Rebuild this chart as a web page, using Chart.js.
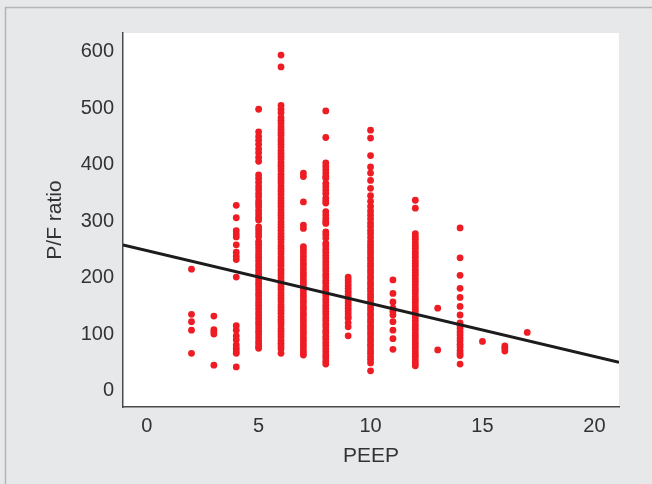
<!DOCTYPE html>
<html>
<head>
<meta charset="utf-8">
<title>P/F ratio vs PEEP</title>
<script src="https://cdn.jsdelivr.net/npm/chart.js@4.4.1/dist/chart.umd.min.js"></script>
<style>
  html, body { margin: 0; padding: 0; background: #e7e8ea; }
  #chart { display: block; }
</style>
</head>
<body>
<canvas id="chart" width="652" height="484"></canvas>
<script>
// P/F ratio readings at each PEEP level
const pf2 = [215, 135, 122, 107, 66];
const pf3 = [132, 108, 104, 100, 45];
const pf4 = [328, 306, 283, 277, 272, 258, 245, 238, 232, 201, 115, 107, 97, 90, 81, 75, 70, 66, 42];
const pf5 = [498, 458, 450, 443, 436, 428, 421, 413, 406, 382, 376, 369, 362, 356, 349, 343, 336, 331, 326,
  319, 313, 307, 302, 290, 285, 279, 273, 264, 259, 253, 247, 241, 236, 230, 224, 219, 213, 207, 202, 196,
  190, 185, 179, 173, 168, 162, 156, 151, 145, 139, 134, 128, 122, 117, 111, 105, 100, 94, 88, 83, 78, 75];
const pf6 = [594, 573, 505, 498, 492, 483, 478, 473, 467, 462, 457, 452, 446, 441, 436, 431, 425, 420, 415,
  410, 404, 399, 394, 389, 383, 378, 373, 368, 362, 357, 352, 347, 341, 336, 331, 326, 320, 315, 310, 305,
  299, 294, 289, 284, 278, 273, 268, 263, 257, 252, 247, 242, 236, 231, 226, 221, 215, 210, 205, 200, 194,
  189, 184, 179, 173, 168, 163, 158, 152, 147, 142, 137, 131, 126, 121, 116, 110, 105, 100, 95, 89, 84, 79, 74, 66];
const pf7 = [385, 379, 334, 293, 287, 255, 250, 244, 238, 232, 226, 221, 215, 209, 204, 198, 193, 188, 182,
  177, 171, 166, 160, 155, 149, 144, 138, 133, 127, 122, 116, 111, 105, 100, 94, 89, 83, 78, 72, 67, 63];
const pf8 = [495, 448, 403, 397, 391, 385, 379, 376, 367, 361, 355, 349, 341, 336, 332, 317, 311, 305, 300,
  296, 281, 276, 270, 261, 256, 250, 245, 239, 234, 228, 223, 217, 212, 206, 201, 195, 190, 184, 179, 173,
  168, 162, 157, 151, 146, 140, 135, 129, 124, 118, 113, 107, 102, 96, 91, 85, 80, 74, 69, 63, 58, 52, 47];
const pf9 = [201, 196, 191, 186, 181, 176, 171, 166, 161, 156, 151, 146, 141, 136, 131, 128, 120, 113, 97];
const pf10 = [461, 447, 416, 396, 385, 372, 358, 345, 335, 326, 318, 311, 304, 297, 291, 284, 278, 271, 264,
  258, 253, 247, 242, 236, 231, 225, 220, 214, 209, 203, 198, 192, 187, 181, 176, 170, 165, 159, 154, 148,
  143, 137, 132, 126, 121, 115, 110, 104, 99, 93, 88, 82, 77, 71, 66, 60, 55, 49, 35];
const pf11 = [196, 172, 157, 146, 140, 134, 122, 107, 92, 73];
const pf12 = [337, 323, 278, 273, 268, 262, 257, 252, 246, 241, 236, 230, 225, 220, 214, 209, 204, 198, 193,
  188, 182, 177, 172, 166, 161, 156, 150, 145, 140, 134, 129, 124, 118, 113, 108, 102, 97, 92, 86, 81, 76,
  70, 65, 60, 54, 49, 44];
const pf13 = [146, 72];
const pf14 = [288, 235, 204, 181, 165, 149, 134, 120, 115, 110, 104, 99, 93, 88, 82, 77, 71, 66, 62, 47];
const pf15 = [87];
const pf16 = [79, 75, 70];
const pf17 = [103];

const peepLevels = [2, 3, 4, 5, 6, 7, 8, 9, 10, 11, 12, 13, 14, 15, 16, 17];
const pfGroups = [pf2, pf3, pf4, pf5, pf6, pf7, pf8, pf9, pf10, pf11, pf12, pf13, pf14, pf15, pf16, pf17];

// regression line, read at the two edges of the plot
const fitX = [-1.06, 21.1];
const fitY = [258, 50];

const xTicks = [0, 5, 10, 15, 20];
const yTicks = [0, 100, 200, 300, 400, 500, 600];

const points = [];
peepLevels.forEach((p, i) => {
    pfGroups[i].forEach(v => points.push({ x: p, y: v }));
});

const textColor = '#333333';
const fontFamily = '"Liberation Sans", Arial, Helvetica, sans-serif';

const frame = {
    id: 'frame',
    beforeDraw(chart) {
        const { ctx, chartArea: a, width, height } = chart;
        ctx.save();
        ctx.fillStyle = '#e7e8ea';
        ctx.fillRect(0, 0, width, height);
        ctx.strokeStyle = '#b4b5b7';
        ctx.lineWidth = 1.5;
        ctx.beginPath();
        ctx.moveTo(width, 7.5);
        ctx.lineTo(5.5, 7.5);
        ctx.lineTo(5.5, height);
        ctx.stroke();
        ctx.fillStyle = '#ffffff';
        ctx.fillRect(a.left, a.top, a.right - a.left, a.bottom - a.top);
        ctx.restore();
    }
};

new Chart(document.getElementById('chart'), {
    type: 'scatter',
    data: {
        datasets: [
            {
                type: 'line',
                data: fitX.map((x, i) => ({ x: x, y: fitY[i] })),
                borderColor: '#1c1c1c',
                borderWidth: 3,
                pointRadius: 0,
                fill: false,
                order: 0
            },
            {
                data: points,
                backgroundColor: '#ee1c24',
                borderWidth: 0,
                pointRadius: 3.4,
                pointHoverRadius: 3.4,
                order: 1
            }
        ]
    },
    options: {
        responsive: false,
        animation: false,
        events: [],
        layout: { padding: { top: 33, right: 33, left: 0, bottom: 0 } },
        plugins: { legend: { display: false }, tooltip: { enabled: false } },
        scales: {
            x: {
                type: 'linear',
                min: fitX[0],
                max: fitX[1],
                afterBuildTicks: s => { s.ticks = xTicks.map(v => ({ value: v })); },
                afterFit: s => { s.height = 77; },
                grid: { display: false, drawTicks: false },
                border: { display: true, color: '#4a4a4a', width: 1.5 },
                ticks: { color: textColor, font: { family: fontFamily, size: 20 }, padding: 7, maxRotation: 0, autoSkip: false },
                title: { display: true, text: 'PEEP', color: textColor, font: { family: fontFamily, size: 21 }, padding: { top: 0, bottom: 15 } }
            },
            y: {
                min: -29,
                max: 633,
                afterBuildTicks: s => { s.ticks = yTicks.map(v => ({ value: v })); },
                afterFit: s => { s.width = 123; },
                grid: { display: false, drawTicks: false },
                border: { display: true, color: '#4a4a4a', width: 1.5 },
                ticks: { color: textColor, font: { family: fontFamily, size: 20 }, padding: 9, autoSkip: false },
                title: { display: true, text: 'P/F ratio', color: textColor, font: { family: fontFamily, size: 21 }, padding: { top: 43, bottom: 0 } }
            }
        }
    },
    plugins: [frame]
});
</script>
</body>
</html>
